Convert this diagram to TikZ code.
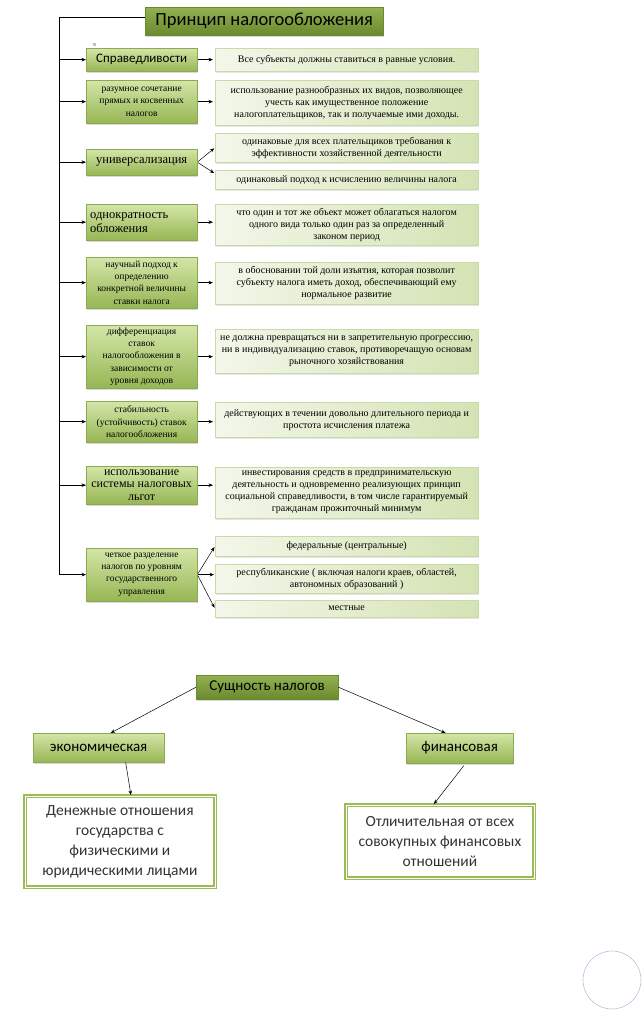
\documentclass[tikz,border=0pt]{standalone}
\usepackage{fontspec}
\setmainfont{Liberation Serif}
\newfontfamily\calibri{Carlito}
\usetikzlibrary{positioning, arrows.meta, shadows}

\definecolor{headtop}{HTML}{93B152}
\definecolor{headbot}{HTML}{6A8A2E}
\definecolor{lefttop}{HTML}{D3E6A8}
\definecolor{leftbot}{HTML}{97B654}
\definecolor{leftedge}{HTML}{8DAA52}
\definecolor{rightl}{HTML}{F3F7EA}
\definecolor{rightr}{HTML}{D4E3B4}
\definecolor{rightedge}{HTML}{C9D9A8}
\definecolor{framegreen}{HTML}{9BBB59}
\definecolor{ringblue}{HTML}{B4C0DA}

\begin{document}
\begin{tikzpicture}[
  x=1pt, y=-1pt,
  every node/.style={inner sep=2pt},
  head/.style={anchor=north west, top color=headtop, bottom color=headbot, draw=headbot,
    line width=0.3pt, drop shadow={opacity=0.3, shadow xshift=1pt, shadow yshift=-1.5pt}},
  lbox/.style={anchor=north west, minimum width=111pt, align=center,
    top color=lefttop, bottom color=leftbot, draw=leftedge, line width=0.3pt,
    drop shadow={opacity=0.3, shadow xshift=1pt, shadow yshift=-1.5pt},
    font=\fontsize{9.5}{12.2}\selectfont},
  bigtext/.style={font=\fontsize{12.5}{14}\selectfont},
  rbox/.style={anchor=north west, minimum width=263pt, align=center,
    left color=rightl, right color=rightr, draw=rightedge, line width=0.3pt,
    drop shadow={opacity=0.2, shadow xshift=1pt, shadow yshift=-1.5pt},
    font=\fontsize{10}{12}\selectfont},
  frame/.style={anchor=north west, draw=framegreen, line width=1.8pt, double=white,
    double distance=0.8pt, fill=white, align=center, text=black!80,
    font=\calibri\fontsize{15.5}{20}\selectfont},
  arrow/.style={-{Stealth[length=4.5pt, width=3.5pt]}, line width=0.5pt}
]
\useasboundingbox (0,0) rectangle (641,1012);

% Title and trunk
\node[head, minimum width=238pt, minimum height=28pt,
  font=\calibri\fontsize{18.5}{20}\selectfont] (title) at (145,7) {Принцип налогообложения};
\coordinate (spine) at (59,0);
\fill[black!25] (93,43) rectangle (96,46);

% Principles (left column)
\node[lbox, minimum height=23pt, font=\calibri\fontsize{13}{14}\selectfont] (s1) at (86,48) {Справедливости};
\node[lbox, minimum height=43pt] (s2) at (86,80) {разумное  сочетание\\прямых и косвенных\\налогов};
\node[lbox, minimum height=26pt, bigtext] (s3) at (86,149) {универсализация};
\node[lbox, minimum height=36pt, bigtext, align=left, text width=103pt] (s4) at (86,204) {однократность\\обложения};
\node[lbox, minimum height=51pt] (s5) at (86,257) {научный подход к\\определению\\конкретной величины\\ставки налога};
\node[lbox, minimum height=63pt, inner sep=1pt] (s6) at (86,325) {дифференциация\\ставок\\налогообложения в\\зависимости  от\\уровня доходов};
\node[lbox, minimum height=41pt] (s7) at (86,401) {стабильность\\(устойчивость) ставок\\налогообложения};
\node[lbox, minimum height=38pt, inner sep=1pt, font=\fontsize{12}{12.8}\selectfont] (s8) at (86,466) {использование\\системы  налоговых\\льгот};
\node[lbox, minimum height=53pt] (s9) at (86,548) {четкое разделение\\налогов по уровням\\государственного\\управления};

% Explanations (right column)
\node[rbox, minimum height=23pt] (r1) at (215,48) {Все субъекты должны ставиться в равные условия.};
\node[rbox, minimum height=45pt] (r2) at (215,80) {использование разнообразных их видов, позволяющее\\учесть как имущественное положение\\налогоплательщиков,  так и получаемые ими доходы.};
\node[rbox, minimum height=29pt] (r3a) at (215,133) {одинаковые для всех плательщиков требования к\\эффективности  хозяйственной деятельности};
\node[rbox, minimum height=19pt] (r3b) at (215,170) {одинаковый подход к исчислению  величины  налога};
\node[rbox, minimum height=41pt] (r4) at (215,204) {что один и тот же объект может облагаться налогом\\одного вида только один раз за определенный\\законом период};
\node[rbox, minimum height=42pt] (r5) at (215,262) {в  обосновании  той доли изъятия,  которая позволит\\субъекту налога иметь доход,  обеспечивающий  ему\\нормальное  развитие};
\node[rbox, minimum height=44pt] (r6) at (215,329) {не должна превращаться ни в запретительную прогрессию,\\ни в индивидуализацию  ставок,  противоречащую основам\\рыночного хозяйствования};
\node[rbox, minimum height=35pt] (r7) at (215,402) {действующих в  течении  довольно длительного периода и\\простота исчисления  платежа};
\node[rbox, minimum height=51pt] (r8) at (215,467) {инвестирования средств в  предпринимательскую\\деятельность  и одновременно реализующих  принцип\\социальной справедливости, в том числе гарантируемый\\гражданам прожиточный  минимум};
\node[rbox, minimum height=20pt] (r9a) at (215,536) {федеральные  (центральные)};
\node[rbox, minimum height=29pt] (r9b) at (215,564) {республиканские ( включая налоги краев, областей,\\автономных образований )};
\node[rbox, minimum height=17pt] (r9c) at (215,600) {местные};

% Trunk line and branches
\draw[arrow] ([yshift=4pt]title.west) -| (spine |- s9.west) -- (s9.west);
\foreach \i in {1,...,8}
  \draw[arrow] (spine |- s\i.west) -- (s\i.west);

% Left to right
\foreach \i in {1,2,4,5,6,7,8}
  \draw[arrow, shorten <=1pt, shorten >=2pt] (s\i.east) -- (s\i.east -| r\i.west);
\draw[arrow, shorten <=1pt, shorten >=1pt] (s3.east) -- (r3a.west);
\draw[arrow, shorten <=1pt, shorten >=1pt] (s3.east) -- ([yshift=6pt]r3b.west);
\draw[arrow, shorten <=1pt, shorten >=1pt] (s9.east) -- (r9a.west);
\draw[arrow, shorten <=1pt, shorten >=1pt] (s9.east) -- (s9.east -| r9b.west);
\draw[arrow, shorten <=1pt, shorten >=1pt] (s9.east) -- (r9c.west);

% Essence of taxes
\node[head, minimum width=142pt, minimum height=24pt,
  font=\calibri\fontsize{15}{16}\selectfont] (essence) at (196,675) {Сущность налогов};
\node[lbox, minimum width=131pt, minimum height=29pt,
  font=\calibri\fontsize{15}{16}\selectfont] (econ) at (33,733) {экономическая};
\node[lbox, minimum width=107pt, minimum height=30pt,
  font=\calibri\fontsize{15}{16}\selectfont] (fin) at (406,733) {финансовая};
\node[frame, minimum width=190pt, minimum height=91pt] (money) at (24,795) {Денежные отношения\\государства с\\физическими и\\юридическими лицами};
\node[frame, minimum width=188pt, minimum height=73pt] (distinct) at (345,804) {Отличительная от всех\\совокупных финансовых\\отношений};

\draw[arrow] (essence.west) -- ([xshift=12pt]econ.north);
\draw[arrow] (essence.east) -- ([xshift=-14pt]fin.north);
\draw[arrow] ([xshift=27pt]econ.south) -- ([xshift=11pt]money.north);
\draw[arrow, shorten <=3pt] ([xshift=6pt]fin.south) -- ([xshift=-6pt]distinct.north);

% Page ring
\draw[ringblue, line width=0.6pt] (612,980) circle (29pt);
\end{tikzpicture}
\end{document}
